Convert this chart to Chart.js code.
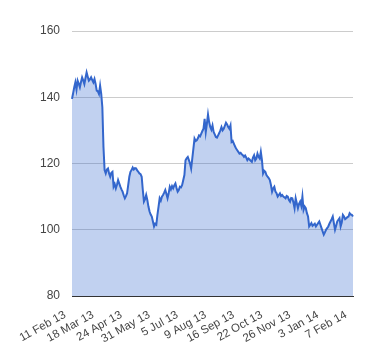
<!DOCTYPE html>
<html>
<head>
<meta charset="utf-8">
<script src="https://cdn.jsdelivr.net/npm/chart.js@4"></script>
<style>
  body { margin: 0; background: #fff; }
</style>
</head>
<body>
<canvas id="chart" width="380" height="360"></canvas>
<script>
// tick labels shown under the axis, one every labelStep points
const tickLabels = ['11 Feb 13', '18 Mar 13', '24 Apr 13', '31 May 13', '5 Jul 13', '9 Aug 13',
  '16 Sep 13', '22 Oct 13', '26 Nov 13', '3 Jan 14', '7 Feb 14'];
const labelStep = 25;

// daily closing values
const values = [
  139.5, 141.2, 143.0, 144.5, 142.3, 145.0, 144.1, 143.0, 144.6, 146.0,
  145.1, 144.0, 145.8, 147.5, 146.2, 145.0, 145.4, 146.0, 145.2, 144.5,
  145.5, 144.0, 142.0, 141.8, 141.0, 143.5, 141.0, 137.0, 125.0, 118.0,
  117.0, 118.2, 118.5, 117.0, 116.0, 117.2, 117.5, 113.0, 113.8, 112.5,
  113.6, 115.0, 114.0, 113.0, 112.2, 111.5, 110.4, 109.5, 110.2, 111.0,
  113.5, 116.0, 117.5, 118.0, 118.8, 118.2, 118.6, 118.5, 117.9, 117.5,
  117.0, 116.8, 116.0, 112.0, 108.5, 109.2, 110.5, 109.0, 107.0, 105.5,
  104.6, 104.0, 102.5, 101.0, 101.8, 101.5, 104.5, 107.0, 109.5, 108.8,
  110.0, 110.5, 111.2, 112.0, 110.8, 109.5, 111.0, 113.0, 112.2, 113.2,
  112.5, 113.4, 114.0, 112.6, 111.5, 112.0, 113.0, 112.8, 113.5, 115.0,
  116.5, 121.0, 121.6, 122.0, 121.0, 120.0, 118.5, 121.5, 124.5, 127.5,
  126.8, 127.0, 127.6, 128.5, 128.2, 129.0, 129.8, 130.5, 133.5, 129.5,
  132.0, 134.8, 132.5, 131.0, 130.2, 131.5, 129.5, 128.8, 128.0, 127.8,
  128.5, 129.2, 130.0, 131.0, 130.0, 130.5, 131.4, 132.3, 131.8, 131.0,
  130.5, 131.5, 126.5, 126.8, 126.0, 125.2, 124.5, 124.0, 123.5, 123.0,
  123.2, 122.8, 122.5, 122.0, 122.4, 121.8, 121.0, 121.5, 121.2, 120.8,
  120.5, 121.8, 122.5, 121.0, 121.5, 123.0, 122.0, 121.5, 123.5, 121.0,
  117.0, 117.8, 117.5, 116.5, 116.0, 115.6, 115.0, 113.5, 111.5, 112.5,
  113.0, 111.5, 111.0, 110.0, 110.5, 111.0, 110.2, 110.5, 110.0, 109.8,
  109.5, 110.2, 110.0, 109.0, 108.5, 109.6, 109.5, 108.2, 106.5, 109.5,
  108.0, 106.5, 107.8, 108.5, 107.2, 110.0, 106.0, 107.0, 106.5, 105.0,
  104.0, 101.0, 101.5, 102.0, 101.2, 101.5, 101.8, 101.0, 101.5, 102.0,
  102.5, 101.5, 100.5, 99.5, 98.5, 99.2, 100.0, 100.5, 101.0, 101.8,
  102.5, 103.2, 104.0, 102.0, 100.0, 101.2, 102.5, 103.0, 103.5, 101.0,
  102.2, 104.5, 104.0, 103.2, 103.5, 103.8, 104.0, 105.0, 104.6, 104.5,
  104.0
];

const yMin = 80, yMax = 160, yStep = 20;

const labels = values.map((v, i) => i % labelStep === 0 ? tickLabels[i / labelStep] : '');

const ctx = document.getElementById('chart').getContext('2d');
new Chart(ctx, {
  type: 'line',
  data: {
    labels: labels,
    datasets: [{
      data: values,
      borderColor: '#3366cc',
      backgroundColor: 'rgba(51, 102, 204, 0.3)',
      borderWidth: 2,
      fill: 'start',
      pointRadius: 0,
      tension: 0,
    }],
  },
  options: {
    responsive: false,
    animation: false,
    devicePixelRatio: 1,
    layout: { padding: { top: 31, right: 27, left: 0, bottom: 0 } },
    plugins: {
      legend: { display: false },
      tooltip: { enabled: false },
    },
    scales: {
      x: {
        offset: false,
        grid: { display: false },
        border: { display: true, color: '#333', width: 1 },
        ticks: {
          autoSkip: false,
          maxRotation: 29,
          minRotation: 29,
          padding: 4,
          labelOffset: -7,
          color: '#444',
          font: { family: 'Liberation Sans, Arial, sans-serif', size: 11.5 },
          callback: function (val, idx) {
            return idx % labelStep === 0 ? tickLabels[idx / labelStep] : null;
          },
        },
        afterFit: (scale) => { scale.height = 64; },
      },
      y: {
        min: yMin,
        max: yMax,
        grid: { color: '#cccccc', drawTicks: false },
        border: { display: false },
        ticks: {
          stepSize: yStep,
          padding: 12,
          color: '#444',
          font: { family: 'Liberation Sans, Arial, sans-serif', size: 12 },
        },
        afterFit: (scale) => { scale.width = 72; },
      },
    },
  },
});
</script>
</body>
</html>
